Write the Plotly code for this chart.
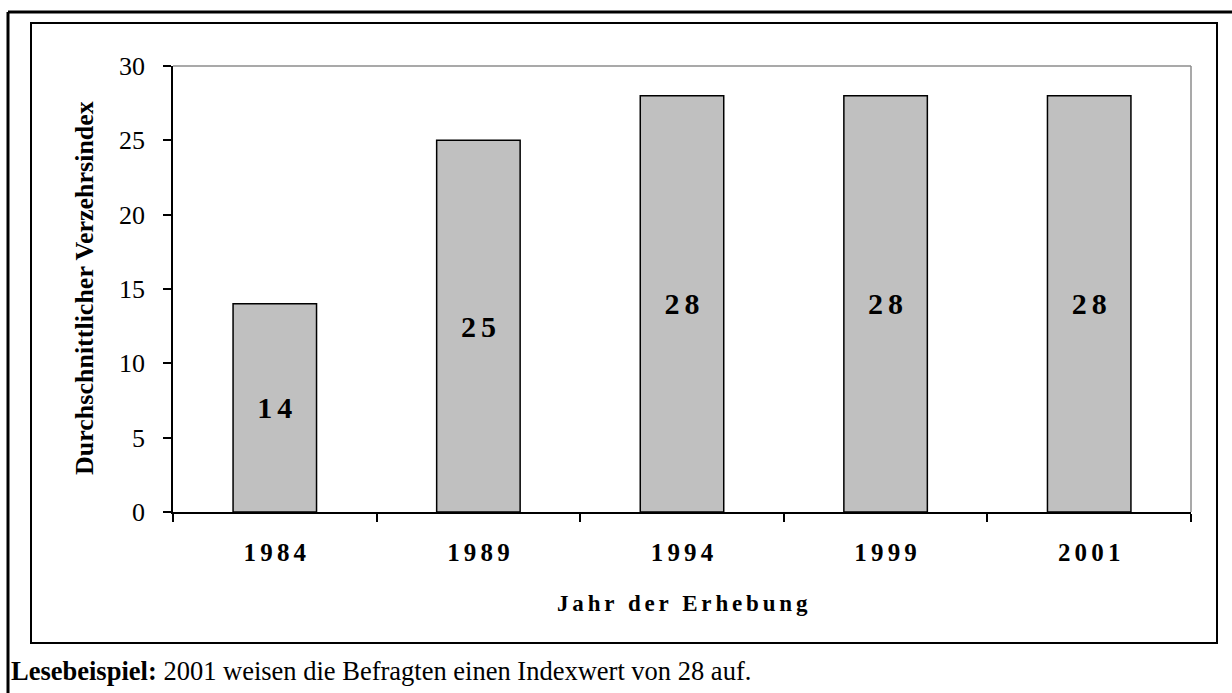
import plotly.graph_objects as go

# ---- data ----
years = ["1984", "1989", "1994", "1999", "2001"]
index_values = [14, 25, 28, 28, 28]
y_ticks = [0, 5, 10, 15, 20, 25, 30]
x_title = "Jahr der Erhebung"
y_title = "Durchschnittlicher Verzehrsindex"
caption_bold = "Lesebeispiel:"
caption_rest = " 2001 weisen die Befragten einen Indexwert von 28 auf."

W, H = 1232, 693
L, R, T, B = 173, 1191, 66, 512  # plot area in pixels

def px(x):
    return (x - L) / (R - L)

def py(y):
    return (B - y) / (B - T)

SERIF = "Liberation Serif, Times New Roman, serif"
SP = "\u2006"  # six-per-em space for letter spacing


def spaced(s):
    return SP.join(list(s))


fig = go.Figure()
fig.add_trace(go.Bar(
    x=years,
    y=index_values,
    width=0.41,
    marker=dict(color="#C0C0C0", line=dict(color="black", width=1.5)),
    text=[spaced(str(v)) for v in index_values],
    textposition="inside",
    insidetextanchor="middle",
    textangle=0,
    textfont=dict(family=SERIF, size=30, color="black", weight="bold"),
    cliponaxis=False,
    hoverinfo="skip",
))

fig.update_layout(
    width=W, height=H,
    margin=dict(l=L, r=W - R, t=T, b=H - B),
    paper_bgcolor="white", plot_bgcolor="white",
    showlegend=False,
    font=dict(family=SERIF, color="black"),
    uniformtext=dict(minsize=30, mode="show"),
)

fig.update_xaxes(
    type="category",
    tickmode="array",
    tickvals=years,
    ticktext=[spaced(y) for y in years],
    tickfont=dict(family=SERIF, size=25, color="black", weight="bold"),
    tickson="boundaries",
    ticks="outside", ticklen=8, tickwidth=1.5, tickcolor="black",
    showline=True, linecolor="black", linewidth=1.5,
    showgrid=False, zeroline=False,
    ticklabelstandoff=17,
)
fig.update_yaxes(
    range=[0, 30],
    tickmode="array", tickvals=y_ticks,
    tickfont=dict(family=SERIF, size=26, color="black"),
    ticks="outside", ticklen=8, tickwidth=1.5, tickcolor="black",
    showline=True, linecolor="black", linewidth=1.5,
    showgrid=False, zeroline=False,
    ticklabelstandoff=13,
)

shapes = [
    # gray top/right frame of plot area
    dict(type="line", xref="paper", yref="paper", x0=0, x1=1, y0=1, y1=1,
         line=dict(color="#8c8c8c", width=1.5)),
    dict(type="line", xref="paper", yref="paper", x0=1, x1=1, y0=0, y1=1,
         line=dict(color="#8c8c8c", width=1.5)),
    # inner box
    dict(type="rect", xref="paper", yref="paper",
         x0=px(31), x1=px(1217), y0=py(643), y1=py(23),
         line=dict(color="black", width=2), layer="below"),
    # outer border (top and left visible)
    dict(type="line", xref="paper", yref="paper",
         x0=px(8), x1=px(1240), y0=py(12), y1=py(12),
         line=dict(color="black", width=3)),
    dict(type="line", xref="paper", yref="paper",
         x0=px(8), x1=px(8), y0=py(12), y1=py(700),
         line=dict(color="black", width=3)),
]
fig.update_layout(shapes=shapes)

x_title_spaced = (SP + " " + SP).join(spaced(w) for w in x_title.split(" "))

annotations = [
    dict(text="<b>" + x_title_spaced + "</b>",
         xref="paper", yref="paper", x=px(682), y=py(603),
         xanchor="center", yanchor="middle", showarrow=False,
         font=dict(family=SERIF, size=23, color="black")),
    dict(text="<b>" + y_title + "</b>",
         xref="paper", yref="paper", x=px(84), y=py(288),
         xanchor="center", yanchor="middle", textangle=-90, showarrow=False,
         font=dict(family=SERIF, size=26, color="black")),
    dict(text="<b>" + caption_bold + "</b>" + caption_rest,
         xref="paper", yref="paper", x=px(9), y=py(671),
         xanchor="left", yanchor="middle", showarrow=False,
         font=dict(family=SERIF, size=26.5, color="black")),
]
fig.update_layout(annotations=annotations)

fig.write_html("out.html",
               config={"displayModeBar": False},
               post_script="document.body.style.margin='0';document.body.style.overflow='hidden';")
